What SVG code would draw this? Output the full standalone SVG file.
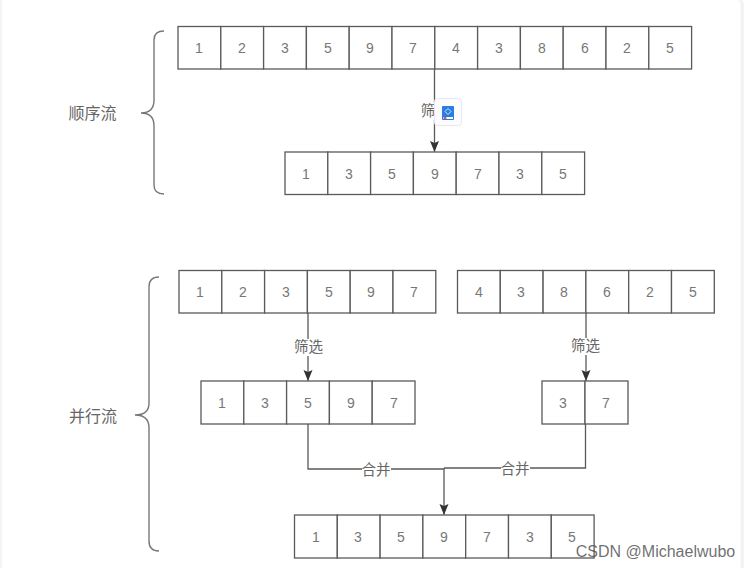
<svg xmlns="http://www.w3.org/2000/svg" width="749" height="568" viewBox="0 0 749 568">
<style>
.c{fill:#fff;stroke:#5a5a5a;stroke-width:1.3}
.t{font-family:"Liberation Sans",Arial,sans-serif;font-size:14px;fill:#777;text-anchor:middle}
.l{font-family:"Noto Sans CJK SC","Liberation Sans",sans-serif;font-size:14.500px;fill:#666;text-anchor:middle}
.g{font-family:"Noto Sans CJK SC","Liberation Sans",sans-serif;font-size:16px;fill:#666;text-anchor:middle}
.e{fill:none;stroke:#5a5a5a;stroke-width:1.3}
.b{fill:none;stroke:#777;stroke-width:1.4}
.lb{fill:#fff}
</style>
<defs><marker id="a" markerWidth="10" markerHeight="12" refX="11" refY="5" orient="auto" markerUnits="userSpaceOnUse"><path d="M0 0.500L11 5L0 9.500L2 5Z" fill="#333"/></marker></defs>
<rect width="749" height="568" fill="#fff"/>
<rect x="0" width="2" height="568" fill="#f4f4f4"/>
<path d="M738 0C740 1 740.500 3 740.500 6V568H744V6C744 3 743 1 742 0Z" fill="#f3f3f3"/>
<g id="brace1"><path class="b" d="M164 31C157 31 154 34 154 40V100C154 109 150 113 141 113C150 113 154 117 154 126V185C154 191 157 194 164 194"/><text class="g" x="92.500" y="119">顺序流</text></g>
<g id="brace2"><path class="b" d="M159 277C152 277 149 280 149 287V403C149 411 145 415 135 415C145 415 149 420 149 428V541C149 547 152 551 159 551"/><text class="g" x="93" y="422">并行流</text></g>
<g id="seq-source">
<rect class="c" x="178" y="26.500" width="42.800" height="42.500"/><rect class="c" x="220.800" y="26.500" width="42.800" height="42.500"/><rect class="c" x="263.600" y="26.500" width="42.800" height="42.500"/><rect class="c" x="306.400" y="26.500" width="42.800" height="42.500"/><rect class="c" x="349.200" y="26.500" width="42.800" height="42.500"/><rect class="c" x="392" y="26.500" width="42.800" height="42.500"/><rect class="c" x="434.800" y="26.500" width="42.800" height="42.500"/><rect class="c" x="477.600" y="26.500" width="42.800" height="42.500"/><rect class="c" x="520.400" y="26.500" width="42.800" height="42.500"/><rect class="c" x="563.200" y="26.500" width="42.800" height="42.500"/><rect class="c" x="606" y="26.500" width="42.800" height="42.500"/><rect class="c" x="648.800" y="26.500" width="42.800" height="42.500"/>
<text class="t" x="199" y="53">1</text><text class="t" x="242" y="53">2</text><text class="t" x="285" y="53">3</text><text class="t" x="328" y="53">5</text><text class="t" x="370" y="53">9</text><text class="t" x="413" y="53">7</text><text class="t" x="456" y="53">4</text><text class="t" x="499" y="53">3</text><text class="t" x="542" y="53">8</text><text class="t" x="585" y="53">6</text><text class="t" x="627" y="53">2</text><text class="t" x="670" y="53">5</text></g>
<g id="seq-result">
<rect class="c" x="285" y="152" width="42.800" height="42.500"/><rect class="c" x="327.800" y="152" width="42.800" height="42.500"/><rect class="c" x="370.600" y="152" width="42.800" height="42.500"/><rect class="c" x="413.400" y="152" width="42.800" height="42.500"/><rect class="c" x="456.200" y="152" width="42.800" height="42.500"/><rect class="c" x="499" y="152" width="42.800" height="42.500"/><rect class="c" x="541.800" y="152" width="42.800" height="42.500"/>
<text class="t" x="306" y="179">1</text><text class="t" x="349" y="179">3</text><text class="t" x="392" y="179">5</text><text class="t" x="435" y="179">9</text><text class="t" x="478" y="179">7</text><text class="t" x="520" y="179">3</text><text class="t" x="563" y="179">5</text></g>
<g id="par-left">
<rect class="c" x="179" y="270.500" width="42.800" height="42.500"/><rect class="c" x="221.800" y="270.500" width="42.800" height="42.500"/><rect class="c" x="264.600" y="270.500" width="42.800" height="42.500"/><rect class="c" x="307.400" y="270.500" width="42.800" height="42.500"/><rect class="c" x="350.200" y="270.500" width="42.800" height="42.500"/><rect class="c" x="393" y="270.500" width="42.800" height="42.500"/>
<text class="t" x="200" y="297">1</text><text class="t" x="243" y="297">2</text><text class="t" x="286" y="297">3</text><text class="t" x="329" y="297">5</text><text class="t" x="371" y="297">9</text><text class="t" x="414" y="297">7</text></g>
<g id="par-right">
<rect class="c" x="457.500" y="270.500" width="42.800" height="42.500"/><rect class="c" x="500.300" y="270.500" width="42.800" height="42.500"/><rect class="c" x="543.100" y="270.500" width="42.800" height="42.500"/><rect class="c" x="585.900" y="270.500" width="42.800" height="42.500"/><rect class="c" x="628.700" y="270.500" width="42.800" height="42.500"/><rect class="c" x="671.500" y="270.500" width="42.800" height="42.500"/>
<text class="t" x="479" y="297">4</text><text class="t" x="521" y="297">3</text><text class="t" x="564" y="297">8</text><text class="t" x="607" y="297">6</text><text class="t" x="650" y="297">2</text><text class="t" x="693" y="297">5</text></g>
<g id="par-left-result">
<rect class="c" x="201" y="381" width="42.800" height="43"/><rect class="c" x="243.800" y="381" width="42.800" height="43"/><rect class="c" x="286.600" y="381" width="42.800" height="43"/><rect class="c" x="329.400" y="381" width="42.800" height="43"/><rect class="c" x="372.200" y="381" width="42.800" height="43"/>
<text class="t" x="222" y="408">1</text><text class="t" x="265" y="408">3</text><text class="t" x="308" y="408">5</text><text class="t" x="351" y="408">9</text><text class="t" x="394" y="408">7</text></g>
<g id="par-right-result">
<rect class="c" x="542" y="381" width="43" height="43"/><rect class="c" x="585" y="381" width="43" height="43"/>
<text class="t" x="563" y="408">3</text><text class="t" x="606" y="408">7</text></g>
<g id="merged">
<rect class="c" x="294.500" y="515" width="42.800" height="43"/><rect class="c" x="337.300" y="515" width="42.800" height="43"/><rect class="c" x="380.100" y="515" width="42.800" height="43"/><rect class="c" x="422.900" y="515" width="42.800" height="43"/><rect class="c" x="465.700" y="515" width="42.800" height="43"/><rect class="c" x="508.500" y="515" width="42.800" height="43"/><rect class="c" x="551.300" y="515" width="42.800" height="43"/>
<text class="t" x="316" y="542">1</text><text class="t" x="358" y="542">3</text><text class="t" x="401" y="542">5</text><text class="t" x="444" y="542">9</text><text class="t" x="487" y="542">7</text><text class="t" x="530" y="542">3</text><text class="t" x="572" y="542">5</text></g>
<g id="connectors">
<path class="e" marker-end="url(#a)" d="M434.500 69V152"/>
<path class="e" marker-end="url(#a)" d="M308 313V381"/>
<path class="e" marker-end="url(#a)" d="M586 313V381"/>
<path class="e" d="M308 424V469H444"/>
<path class="e" d="M585.500 424V468H444"/>
<path class="e" marker-end="url(#a)" d="M444 468V515"/>
</g>
<g id="labels">
<rect class="lb" x="420" y="103" width="15" height="17"/><text class="l" x="428" y="116">筛</text>
<rect class="lb" x="294" y="339" width="29" height="17"/><text class="l" x="308.500" y="352">筛选</text>
<rect class="lb" x="571" y="338" width="29" height="17"/><text class="l" x="585.500" y="351">筛选</text>
<rect class="lb" x="362" y="462" width="29" height="17"/><text class="l" x="376" y="475">合并</text>
<rect class="lb" x="501" y="461" width="29" height="17"/><text class="l" x="515" y="474">合并</text>
</g>
<g id="icon">
<rect x="434.500" y="98.500" width="27" height="27" rx="3" fill="#fcfcfe" stroke="#e6e8f0"/>
<rect x="442" y="106" width="12" height="14" rx="1" fill="#2a7de1"/>
<path d="M448 108.500L451 111.500L448 114.500L445 111.500Z" fill="none" stroke="#cfe3fb"/>
<rect x="443" y="117" width="10" height="2" fill="#fff"/>
<rect x="443.500" y="117" width="3" height="2" fill="#e0526a"/>
</g>
<text id="watermark" x="655.500" y="557" font-family="Liberation Sans,Arial,sans-serif" font-size="16" fill="#555" fill-opacity=".85" text-anchor="middle">CSDN @Michaelwubo</text>
</svg>
